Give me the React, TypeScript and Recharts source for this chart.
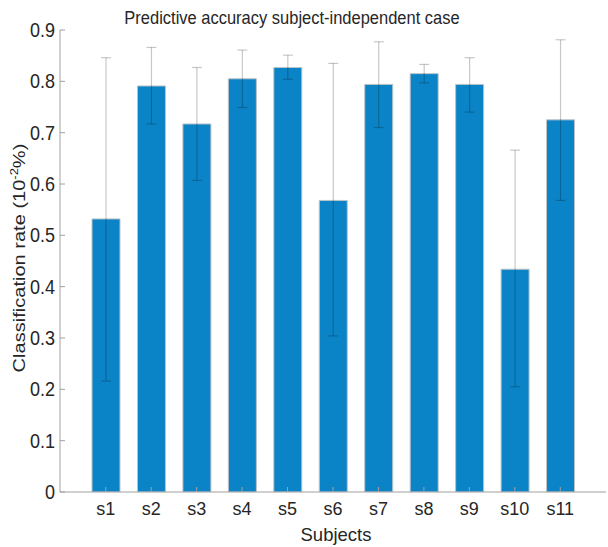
import { Bar, BarChart, ErrorBar, XAxis, YAxis } from 'recharts';

const subjects = ['s1', 's2', 's3', 's4', 's5', 's6', 's7', 's8', 's9', 's10', 's11'];
const rates = [0.532, 0.791, 0.717, 0.805, 0.827, 0.568, 0.794, 0.815, 0.794, 0.434, 0.725];
const lower = [0.216, 0.717, 0.607, 0.749, 0.804, 0.304, 0.71, 0.797, 0.74, 0.205, 0.568];
const upper = [0.846, 0.866, 0.827, 0.861, 0.851, 0.835, 0.877, 0.833, 0.846, 0.666, 0.881];
const yTicks = [0, 0.1, 0.2, 0.3, 0.4, 0.5, 0.6, 0.7, 0.8, 0.9];

const data = subjects.map((name, i) => ({
  name,
  rate: rates[i],
  err: [rates[i] - lower[i], upper[i] - rates[i]],
}));

const FONT = '"Liberation Sans", Arial, sans-serif';
const AXIS = '#a0a0a0';
const TEXT = '#262626';
const TICK = 5;

type TickProps = {
  x: number;
  y: number;
  payload: { value: string | number };
};

function bottomTick({ x, y, payload }: TickProps) {
  return (
    <g>
      <line x1={x} y1={y} x2={x} y2={y - TICK} stroke={AXIS} />
      <text x={x} y={y + 23} textAnchor="middle" fill={TEXT} fontSize={18} fontFamily={FONT}>
        {payload.value}
      </text>
    </g>
  );
}

function topTick({ x, y }: TickProps) {
  return <line x1={x} y1={y} x2={x} y2={y + TICK} stroke={AXIS} />;
}

function leftTick({ x, y, payload }: TickProps) {
  return (
    <g>
      <line x1={x} y1={y} x2={x + TICK} y2={y} stroke={AXIS} />
      <text
        transform={`translate(${x - 5}, ${y + 7}) scale(1, 1.1)`}
        textAnchor="end"
        fill={TEXT}
        fontSize={18}
        fontFamily={FONT}
      >
        {payload.value}
      </text>
    </g>
  );
}

function rightTick({ x, y }: TickProps) {
  return <line x1={x} y1={y} x2={x - TICK} y2={y} stroke={AXIS} />;
}

export default function App() {
  return (
    <div style={{ position: 'absolute', left: 0, top: 0, width: 608, height: 547, background: '#fff' }}>
      <BarChart
        width={608}
        height={547}
        data={data}
        margin={{ top: 30, right: 2, bottom: 25, left: 10 }}
      >
        <XAxis
          dataKey="name"
          height={30}
          padding={{ left: 23, right: 23 }}
          axisLine={{ stroke: AXIS }}
          tickLine={false}
          tickSize={0}
          tickMargin={0}
          tick={bottomTick}
          interval={0}
        />
        <XAxis
          xAxisId="top"
          dataKey="name"
          orientation="top"
          height={0}
          padding={{ left: 23, right: 23 }}
          axisLine={{ stroke: AXIS }}
          tickLine={false}
          tickSize={0}
          tickMargin={0}
          tick={topTick}
          interval={0}
        />
        <YAxis
          width={50}
          domain={[0, 0.9]}
          ticks={yTicks}
          type="number"
          allowDataOverflow
          axisLine={{ stroke: AXIS }}
          tickLine={false}
          tickSize={0}
          tickMargin={0}
          tick={leftTick}
          interval={0}
        />
        <YAxis
          yAxisId="right"
          orientation="right"
          width={0}
          domain={[0, 0.9]}
          ticks={yTicks}
          type="number"
          allowDataOverflow
          axisLine={{ stroke: AXIS }}
          tickLine={false}
          tickSize={0}
          tickMargin={0}
          tick={rightTick}
          interval={0}
        />
        <Bar
          dataKey="rate"
          fill="#0b84c7"
          stroke="#bcc3c8"
          strokeWidth={1}
          barSize={28}
          isAnimationActive={false}
        >
          <ErrorBar
            dataKey="err"
            width={5}
            stroke="rgba(0,0,0,0.22)"
            strokeWidth={1.2}
            isAnimationActive={false}
          />
        </Bar>
      </BarChart>
      <svg
        width={608}
        height={547}
        style={{ position: 'absolute', left: 0, top: 0, pointerEvents: 'none' }}
      >
        <text
          transform="translate(292, 24) scale(1, 1.12)"
          textAnchor="middle"
          fill={TEXT}
          fontSize={16.5}
          fontFamily={FONT}
        >
          Predictive accuracy subject-independent case
        </text>
        <text x={336} y={541} textAnchor="middle" fill={TEXT} fontSize={18.5} fontFamily={FONT}>
          Subjects
        </text>
        <text
          transform="translate(25, 258) rotate(-90) scale(1.18, 1)"
          textAnchor="middle"
          fill={TEXT}
          fontSize={17}
          fontFamily={FONT}
        >
          Classification rate (10
          <tspan fontSize={11} dy={-7}>-2</tspan>
          <tspan dy={7}>%)</tspan>
        </text>
      </svg>
    </div>
  );
}
